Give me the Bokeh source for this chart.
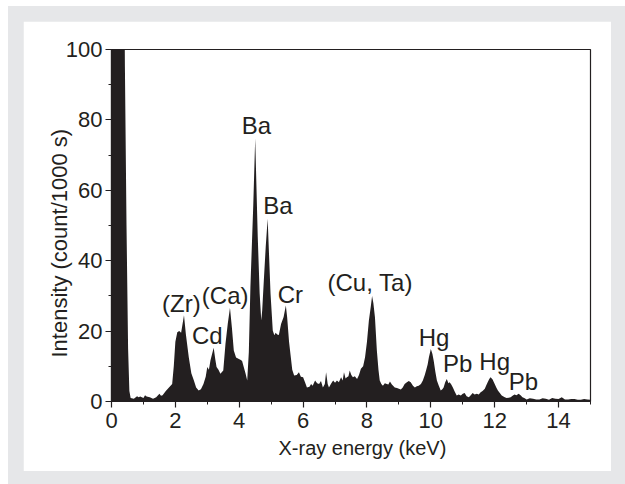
from bokeh.plotting import figure
from bokeh.layouts import column
from bokeh.models import SingleIntervalTicker, Label, Title
from bokeh.embed import file_html
from bokeh.resources import INLINE

energy_kev = [0.00, 0.38, 0.42, 0.47, 0.52, 0.56, 0.60, 0.70, 0.80, 0.85, 0.90, 1.00, 1.05, 1.10, 1.20,
              1.30, 1.40, 1.50, 1.55, 1.60, 1.70, 1.80, 1.90, 1.95, 2.00, 2.06, 2.12, 2.18, 2.27, 2.33,
              2.42, 2.50, 2.58, 2.65, 2.73, 2.80, 2.88, 2.95, 3.00, 3.05, 3.10, 3.20, 3.25, 3.29, 3.35,
              3.41, 3.50, 3.57, 3.64, 3.71, 3.77, 3.83, 3.90, 3.99, 4.05, 4.09, 4.15, 4.20, 4.25, 4.30,
              4.35, 4.44, 4.50, 4.58, 4.64, 4.69, 4.72, 4.77, 4.83, 4.89, 4.98, 5.05, 5.10, 5.14, 5.19,
              5.24, 5.31, 5.39, 5.46, 5.50, 5.56, 5.61, 5.66, 5.72, 5.80, 5.87, 5.93, 6.00, 6.06, 6.12,
              6.20, 6.25, 6.30, 6.375, 6.44, 6.50, 6.56, 6.62, 6.68, 6.72, 6.77, 6.81, 6.87, 6.94, 7.00,
              7.06, 7.12, 7.19, 7.24, 7.28, 7.33, 7.37, 7.42, 7.46, 7.51, 7.56, 7.62, 7.69, 7.75, 7.81,
              7.88, 7.94, 8.00, 8.06, 8.12, 8.16, 8.20, 8.25, 8.31, 8.36, 8.40, 8.45, 8.50, 8.56, 8.62,
              8.67, 8.72, 8.78, 8.87, 8.94, 9.00, 9.06, 9.12, 9.18, 9.25, 9.31, 9.37, 9.44, 9.50, 9.56,
              9.62, 9.69, 9.75, 9.81, 9.85, 9.90, 9.94, 10.00, 10.05, 10.09, 10.14, 10.19, 10.25, 10.31,
              10.36, 10.40, 10.45, 10.50, 10.55, 10.59, 10.64, 10.69, 10.75, 10.81, 10.87, 10.94, 11.00,
              11.06, 11.12, 11.19, 11.25, 11.31, 11.37, 11.44, 11.50, 11.56, 11.62, 11.69, 11.73, 11.78,
              11.83, 11.87, 11.93, 12.00, 12.05, 12.10, 12.16, 12.22, 12.30, 12.37, 12.44, 12.50, 12.56,
              12.62, 12.68, 12.75, 12.81, 12.87, 12.94, 13.00, 13.1, 13.2, 13.3, 13.4, 13.5, 13.6, 13.7,
              13.8, 13.9, 14.0, 14.1, 14.2, 14.3, 14.4, 14.5, 14.6, 14.7, 14.8, 14.9, 15.0]

intensity = [150, 150, 95, 50, 15, 3, 1.0, 0.8, 1.5, 1.2, 1.4, 1.0, 1.8, 1.4, 1.2,
             0.8, 1.2, 2.2, 1.6, 1.8, 3.0, 4.0, 5.0, 10, 17, 19.7, 20, 19.5, 24.5, 19,
             12.6, 8, 6, 4, 3.1, 3.5, 5, 7, 9.8, 9.0, 11.7, 15.3, 12, 9.8, 9,
             7.9, 8.8, 16.5, 22, 26.6, 21, 14.5, 12.5, 12.1, 11.8, 11.5, 9.5, 7.9, 6, 14,
             32.5, 56, 74.7, 46.7, 30.7, 23, 26, 34.4, 44, 51.9, 30.7, 20.2, 18.8, 19.5, 19,
             18.9, 22, 24, 27.3, 24, 17, 13, 9, 7.4, 7.5, 8.3, 7, 6.9, 5.5, 4,
             4.2, 5, 4.5, 6, 5.2, 5, 5.8, 4, 5, 8.3, 5, 4, 5, 6, 5.3,
             6, 5.5, 6.9, 6, 8.3, 6.5, 6.9, 7.2, 8.8, 7.5, 6.9, 7.2, 6.4, 7.5, 9.3,
             10, 12.6, 17, 23, 27, 30, 28, 23.9, 14.5, 9, 6, 5, 4.5, 5.2, 5,
             4.8, 5.7, 4.8, 4, 3.8, 3.6, 3.4, 4, 5, 5.5, 5.8, 5.5, 4.5, 4, 4.3,
             4.5, 5, 6, 7.5, 8.8, 10.5, 12.6, 14.9, 13.5, 11.6, 8.5, 6, 4.5, 3.1,
             3.5, 4, 5.5, 6.4, 5.2, 5.5, 4.8, 4, 2.8, 1.7, 2, 1.7, 2.2,
             2.4, 1.5, 1.2, 1.8, 2.4, 2.0, 2.2, 2.0, 2.6, 3.0, 3.6, 4.5, 5.5,
             6.4, 6.9, 6.3, 5, 4, 3.1, 2.4, 1.7, 1.3, 1.0, 1.1, 1.2, 1.6,
             2, 1.8, 2.2, 1.8, 1.2, 0.9, 0.6, 0.9, 0.8, 0.6, 0.6, 0.9, 0.8, 0.5,
             1.0, 0.8, 0.7, 1.2, 0.6, 0.6, 0.7, 0.7, 0.5, 0.5, 0.7, 0.6, 0.5]

label_texts = ["(Zr)", "(Ca)", "Cd", "Ba", "Ba", "Cr", "(Cu, Ta)", "Hg", "Pb", "Hg", "Pb"]
label_x = [2.19, 3.56, 3.0, 4.54, 5.21, 5.6, 8.1, 10.1, 10.84, 12.0, 12.9]
label_y = [27.7, 30.1, 18.7, 78.5, 55.6, 30.5, 33.8, 18.2, 10.7, 11.4, 5.7]

x_title = "X-ray energy (keV)"
y_title = "Intensity (count/1000 s)"

INK = "#231f20"
FONT = "Liberation Sans"

p = figure(width=588, height=450, x_range=(0, 15), y_range=(0, 100),
           output_backend="svg", toolbar_location=None,
           min_border_left=88, min_border_right=21, min_border_top=28, min_border_bottom=70)
p.border_fill_color = "white"
p.background_fill_color = "white"
p.grid.visible = False
p.outline_line_color = INK
p.outline_line_width = 1.2

p.varea(x=energy_kev, y1=0, y2=intensity, fill_color=INK)

p.xaxis.ticker = SingleIntervalTicker(interval=2, num_minor_ticks=2)
p.yaxis.ticker = SingleIntervalTicker(interval=20, num_minor_ticks=2)
for ax in (p.xaxis, p.yaxis):
    ax.axis_line_color = INK
    ax.axis_line_width = 1.2
    ax.major_tick_line_color = INK
    ax.minor_tick_line_color = INK
    ax.major_tick_line_width = 1.2
    ax.minor_tick_line_width = 1.0
    ax.major_tick_out = 6
    ax.major_tick_in = 0
    ax.minor_tick_out = 3
    ax.minor_tick_in = 0
    ax.major_label_text_font = FONT
    ax.major_label_text_font_size = "22px"
    ax.major_label_text_color = INK
p.xaxis.major_label_standoff = 5
p.yaxis.major_label_standoff = 3

# axis titles as Titles, shifted along the axis as in the reference
p.add_layout(Title(text=x_title, align="left", offset=167, standoff=8,
                   text_font=FONT, text_font_size="20px", text_font_style="normal",
                   text_color=INK), "below")
p.add_layout(Title(text=y_title, align="left", offset=44, standoff=-18,
                   text_font=FONT, text_font_size="22px", text_font_style="normal",
                   text_color=INK), "left")

for t, x, y in zip(label_texts, label_x, label_y):
    p.add_layout(Label(x=x, y=y, text=t, text_font=FONT, text_font_size="24px",
                       text_color=INK, text_align="center", text_baseline="middle"))

layout = column(p, styles={"margin-left": "8px", "margin-top": "6px",
                           "padding": "15px 14px 13px 15px",
                           "background-color": "#e6e7e9"})

open("out.html", "w").write(file_html(layout, INLINE))
